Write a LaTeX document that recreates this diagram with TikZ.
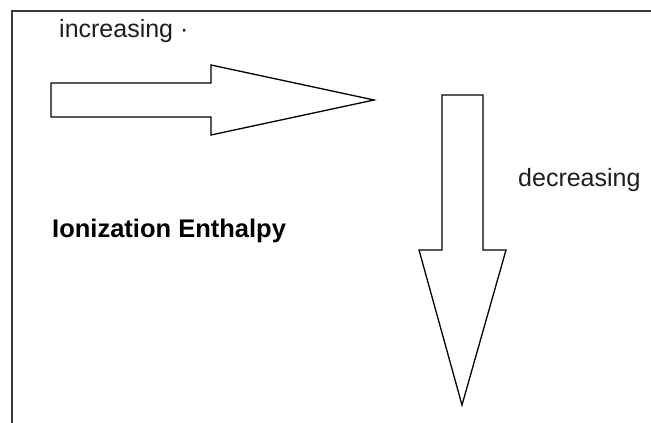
\documentclass[tikz,border=0pt]{standalone}
\usepackage{fontspec}
\setmainfont{Liberation Sans}
\usetikzlibrary{positioning}
\definecolor{ieink}{HTML}{1E1E1E}
\definecolor{ieframe}{HTML}{3A3A3A}
\tikzset{
  frm/.style={draw=ieframe, line width=2pt},
  blkarr/.style={draw=black, line width=1.3pt, fill=white, line join=miter},
  lbl/.style={anchor=base west, inner sep=0pt, text=ieink, font=\fontsize{25}{30}\selectfont},
  ttl/.style={anchor=base west, inner sep=0pt, text=black, font=\fontsize{25.5}{30}\selectfont\bfseries},
}
\begin{document}
\begin{tikzpicture}[x=1pt,y=-1pt]
  \useasboundingbox (0,0) rectangle (651,423);
  \fill[white] (0,0) rectangle (651,423);
  \draw[frm] (11.5,430) -- (11.5,11) -- (660,11);
  % block arrow pointing right
  \draw[blkarr] (51,83) -- (211,83) -- (211,65) -- (374,100) -- (211,135) -- (211,117) -- (51,117) -- cycle;
  % block arrow pointing down
  \draw[blkarr] (442,95) -- (483,95) -- (483,250) -- (506,250) -- (462,405) -- (419,250) -- (442,250) -- cycle;
  \node[lbl] (inc) at (59,37.5) {increasing ·};
  \node[lbl] (dec) at (518,186) {decreasing};
  \node[ttl] (ie) at (52,237) {Ionization Enthalpy};
\end{tikzpicture}
\end{document}
